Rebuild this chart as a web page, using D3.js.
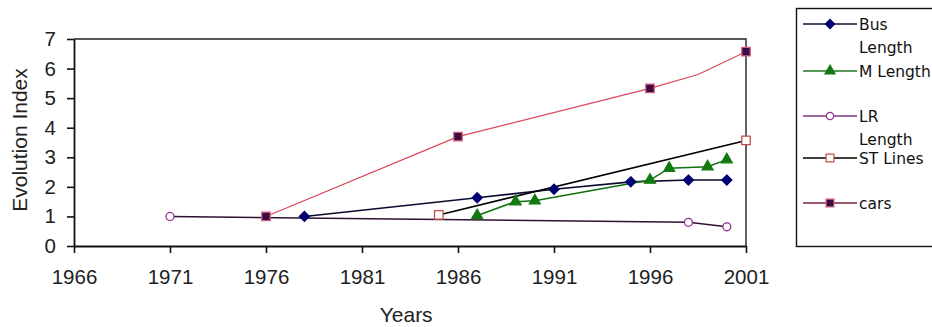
<!DOCTYPE html>
<html><head><meta charset="utf-8">
<script src="https://cdn.jsdelivr.net/npm/d3@7"></script>
<style>body{margin:0;background:#fff;}svg{display:block;}</style>
</head><body>
<script>
// ---- data ----
const xTicks = [1966,1971,1976,1981,1986,1991,1996,2001];
const yTicks = [0,1,2,3,4,5,6,7];
const busYears = [1978,1987,1991,1995,1998,2000];
const busValues = [1.0,1.63,1.92,2.17,2.23,2.23];
const mYears = [1987,1989,1990,1996,1997,1999,2000];
const mValues = [1.03,1.5,1.53,2.23,2.63,2.68,2.92];
const lrYears = [1971,1998,2000];
const lrValues = [1.0,0.8,0.65];
const stYears = [1985,2001];
const stValues = [1.05,3.57];
const carsYears = [1976,1986,1996,1998.5,2001];
const carsValues = [1.0,3.7,5.33,5.8,6.57];
const carsMarked = [true,true,true,false,true];
const seriesNames = ["Bus\nLength","M Length","LR\nLength","ST Lines","cars"];

const series = [
  {name:seriesNames[0], years:busYears, values:busValues, line:"#0a0a30", lw:1.6, marker:"diamond", fill:"#000070", stroke:"#000070", size:64, legendLine:"#101030"},
  {name:seriesNames[1], years:mYears, values:mValues, line:"#107010", lw:1.5, marker:"triangle", fill:"#107a10", stroke:"#107a10", size:52, legendLine:"#207a20"},
  {name:seriesNames[2], years:lrYears, values:lrValues, line:"#301030", lw:1.5, marker:"circle", fill:"#fff", stroke:"#903090", size:50, legendLine:"#7a3a80"},
  {name:seriesNames[3], years:stYears, values:stValues, line:"#000", lw:1.6, marker:"square", fill:"#fff", stroke:"#c05048", size:72, legendLine:"#000"},
  {name:seriesNames[4], years:carsYears, values:carsValues, marked:carsMarked, line:"#d84858", lw:1.2, marker:"square", fill:"#3a0a40", stroke:"#d06080", size:72, legendLine:"#802040"}
];

const W=932,H=327;
const svg=d3.select("body").append("svg").attr("width",W).attr("height",H);
svg.append("rect").attr("width",W).attr("height",H).attr("fill","#fff");

const x=d3.scaleLinear().domain([1966,2001]).range([74,746]);
const y=d3.scaleLinear().domain([0,7]).range([246,39]);

const symType={diamond:d3.symbolDiamond2,triangle:d3.symbolTriangle,circle:d3.symbolCircle,square:d3.symbolSquare};

// plot frame (top and right)
svg.append("path").attr("d",`M${x(1966)},${y(7)}H${x(2001)}V${y(0)}`).attr("fill","none").attr("stroke","#222").attr("stroke-width",1.4);

// axes
const font="'Liberation Sans', Arial, sans-serif";
const yAxis=svg.append("g").attr("transform",`translate(${x(1966)},0)`)
  .call(d3.axisLeft(y).tickValues(yTicks).tickFormat(d3.format("d")).tickSize(7).tickSizeOuter(0));
const xAxis=svg.append("g").attr("transform",`translate(0,${y(0)})`)
  .call(d3.axisBottom(x).tickValues(xTicks).tickFormat(d3.format("d")).tickSize(7).tickSizeOuter(0));
[yAxis,xAxis].forEach(g=>{
  g.select(".domain").attr("stroke","#111").attr("stroke-width",1.8);
  g.selectAll(".tick line").attr("stroke","#111").attr("stroke-width",1.6);
  g.selectAll("text").attr("font-family",font).attr("font-size",20.5).attr("fill","#222");
});
yAxis.selectAll("text").attr("x",-18);
xAxis.selectAll("text").attr("y",23);

// axis titles
svg.append("text").attr("x",x(1983.3)).attr("y",322).attr("text-anchor","middle")
  .attr("font-family",font).attr("font-size",21).attr("fill","#222").text("Years");
svg.append("text").attr("transform",`translate(27,${140}) rotate(-90)`).attr("text-anchor","middle")
  .attr("font-family",font).attr("font-size",21).attr("fill","#222").text("Evolution Index");

// series
const lineGen=d3.line().x(d=>x(d[0])).y(d=>y(d[1]));
series.forEach(s=>{
  const pts=s.years.map((yr,i)=>[yr,s.values[i],s.marked?s.marked[i]:true]);
  svg.append("path").datum(pts).attr("d",lineGen).attr("fill","none")
    .attr("stroke",s.line).attr("stroke-width",s.lw);
});
series.forEach(s=>{
  const pts=s.years.map((yr,i)=>[yr,s.values[i],s.marked?s.marked[i]:true]).filter(p=>p[2]);
  svg.append("g").selectAll("path").data(pts).join("path")
    .attr("transform",d=>`translate(${x(d[0])},${y(d[1])})`)
    .attr("d",d3.symbol().type(symType[s.marker]).size(s.size))
    .attr("fill",s.fill).attr("stroke",s.stroke).attr("stroke-width",1.3);
});

// legend
const lg=svg.append("g");
lg.append("rect").attr("x",796.5).attr("y",8.5).attr("width",150).attr("height",238)
  .attr("fill","#fff").attr("stroke","#111").attr("stroke-width",1.4);
const legendY=[24,71,116,158,203];
const lfont="'DejaVu Sans', Verdana, sans-serif";
series.forEach((s,i)=>{
  const cy=legendY[i];
  lg.append("line").attr("x1",803).attr("x2",857).attr("y1",cy).attr("y2",cy)
    .attr("stroke",s.legendLine).attr("stroke-width",1.3);
  lg.append("path").attr("transform",`translate(830,${cy})`)
    .attr("d",d3.symbol().type(symType[s.marker]).size(s.size*0.85))
    .attr("fill",s.fill).attr("stroke",s.stroke).attr("stroke-width",1.2);
  s.name.split("\n").forEach((t,j)=>{
    lg.append("text").attr("x",859).attr("y",cy+j*23).attr("dy","0.36em")
      .attr("font-family",lfont).attr("font-size",15.5).attr("fill","#111").text(t);
  });
});
</script>
</body></html>
